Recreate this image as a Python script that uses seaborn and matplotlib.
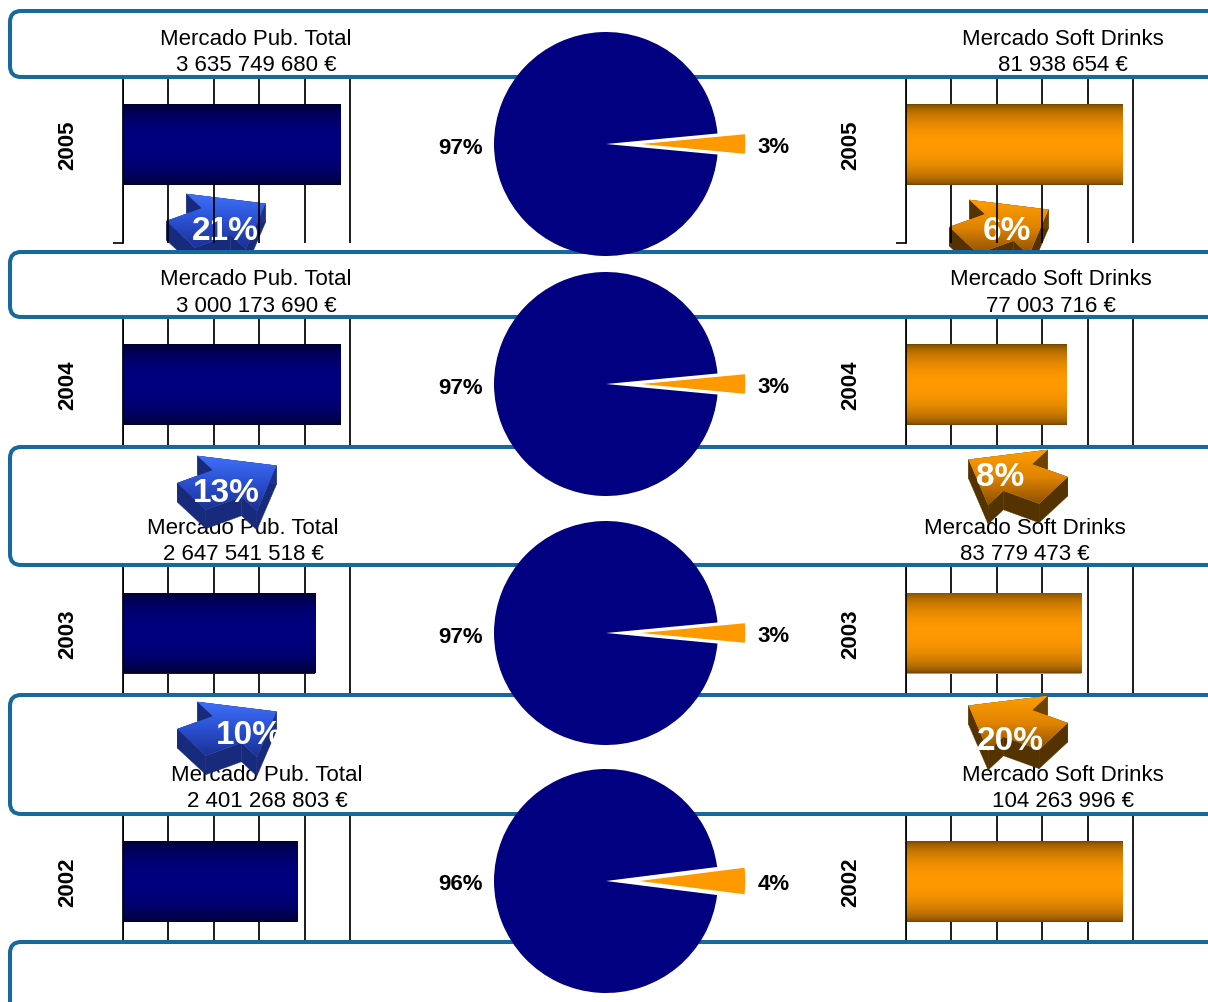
import numpy as np
import pandas as pd
import matplotlib
matplotlib.use("Agg")
import matplotlib.pyplot as plt
from matplotlib.patches import FancyBboxPatch, Polygon
from matplotlib.colors import LinearSegmentedColormap, to_rgb
import seaborn as sns

# ---------------------------------------------------------------- data
years = ["2005", "2004", "2003", "2002"]
pub_total = [3635749680, 3000173690, 2647541518, 2401268803]
soft_total = [81938654, 77003716, 83779473, 104263996]
soft_share_pct = [3, 3, 3, 4]
pub_growth_pct = [21, 13, 10]        # year over previous year
soft_growth_pct = [6, -8, -20]
pub_title = "Mercado Pub. Total"
soft_title = "Mercado Soft Drinks"

# ---------------------------------------------------------------- layout
W, H = 1208, 1003
row_centers = [145.5, 385.5, 634, 882]
pie_cy = [145, 385, 634, 882]
pub_fill = [0.956, 0.956, 0.846, 0.767]    # bar length / axis length
soft_fill = [0.952, 0.709, 0.771, 0.952]
box_spans = [(12, 78), (253, 318), (448, 566), (696, 815), (943, 1070)]
pub_text_x = [256, 256, 243, 267]
soft_text_x = [1063, 1051, 1025, 1063]
text_y = [(39, 65), (279, 306), (528, 554), (776, 802)]
pub_arrow_xy = [(223, 220), (234, 482), (234, 728)]
pub_arrow_txt = [(225, 231), (226, 494), (249, 735)]
soft_arrow_xy = [(1006, 226), (1011, 476), (1011, 722)]
soft_arrow_txt = [(1007, 231), (1000, 478), (1010, 742)]
PANEL_W = 227          # pixel span of the five grid intervals
PANEL_PAD = 3          # room so the last grid line is not clipped
PIE_R = 112            # pie radius in pixels

NAVY = "#000080"
ORANGE = "#FF9900"
BOX_EDGE = "#15699B"

sns.set_style("white")
plt.rcParams["font.family"] = ["Liberation Sans", "DejaVu Sans"]
plt.rcParams["text.color"] = "black"

fig = plt.figure(figsize=(W / 100, H / 100), dpi=100)


def px_axes(x0, y0, w, h, z):
    ax = fig.add_axes([x0 / W, 1 - (y0 + h) / H, w / W, h / H])
    ax.set_zorder(z)
    ax.patch.set_visible(False)
    return ax


def overlay(z):
    ax = px_axes(0, 0, W, H, z)
    ax.set_xlim(0, W)
    ax.set_ylim(H, 0)
    ax.axis("off")
    return ax


ax_under = overlay(0)
ax_box = overlay(2)
ax_top = overlay(4)


def band_cmap(name, edge, mid):
    # dark at both edges, full colour through the middle of the bar
    t = np.linspace(0, 1, 64)
    k = np.sin(np.pi * t) ** 0.55
    e, m = np.array(to_rgb(edge)), np.array(to_rgb(mid))
    cols = [tuple(e + (m - e) * kk) for kk in k]
    return LinearSegmentedColormap.from_list(name, cols)


navy_cmap = band_cmap("navy", "#00002A", NAVY)
orange_cmap = band_cmap("orng", "#704200", ORANGE)


def thousands(v):
    return f"{v:,}".replace(",", " ") + " \u20ac"


def bar_panel(x0, yc, value, year, fill, color, cmap):
    ax = px_axes(x0, yc - 98.5, PANEL_W + PANEL_PAD, 197, 1)
    df = pd.DataFrame({"year": [year], "value": [value]})
    sns.barplot(data=df, x="value", y="year", orient="h", color=color,
                width=0.8, linewidth=0, ax=ax)
    span = 0.8 * 197 / 81 / 2
    xmax = value / fill
    for p in ax.patches:
        bb = p.get_bbox()
        grad = np.linspace(0, 1, 256).reshape(-1, 1)
        im = ax.imshow(grad, extent=(bb.x0, bb.x1, bb.y1, bb.y0), aspect="auto",
                       cmap=cmap, zorder=p.get_zorder() + 0.1, origin="upper")
        im.set_clip_path(p)
    ax.set_xlim(0, xmax * (PANEL_W + PANEL_PAD) / PANEL_W)
    ax.set_ylim(span, -span)
    ax.set_xticks(np.linspace(0, xmax, 6))
    ax.set_xticklabels([])
    ax.set_yticks([span * 0.999])
    ax.set_yticklabels([])
    ax.tick_params(axis="x", length=0)
    ax.tick_params(axis="y", length=7.5, width=1.2, direction="out", color="black", left=True)
    ax.grid(axis="x", color="black", lw=1.25)
    ax.grid(axis="y", visible=False)
    ax.set_axisbelow(True)
    for s in ("top", "right", "bottom"):
        ax.spines[s].set_visible(False)
    ax.spines["left"].set_color("black")
    ax.spines["left"].set_linewidth(1.25)
    ax.set_xlabel("")
    ax.set_ylabel("")
    ax.text(-55.5 / (PANEL_W + PANEL_PAD), 0.5, year, transform=ax.transAxes, rotation=90,
            ha="center", va="center", fontsize=16, fontweight="bold", color="black")
    return ax


def pie_panel(cy, share):
    S = 380
    L = S / 2 / PIE_R
    ax = px_axes(606 - S / 2, cy - S / 2, S, S, 3)
    vals = [100 - share, share]
    wedges, texts = ax.pie(
        vals, colors=[NAVY, ORANGE], explode=[0, 0.25],
        startangle=0.0 + 180 * share / 100,
        labels=[f"{v}%" for v in vals], labeldistance=1.1,
        textprops=dict(fontsize=16, fontweight="bold", color="black"),
        wedgeprops=dict(linewidth=0))
    wedges[1].set_edgecolor("white")
    wedges[1].set_linewidth(1.0)
    # centre the figures optically on the slice axis
    for t in texts:
        x, y = t.get_position()
        t.set_position((x, y - 3 / PIE_R))
    ax.set_xlim(-L, L)
    ax.set_ylim(-L, L)
    ax.set_aspect("equal")


def block_arrow(ax, cx, cy, heading, top_colors, side_color, front_color):
    length, squash, depth = 100, 0.58, 19
    Ls, w, h = 0.42, 0.27, 0.56
    pts = np.array([(-0.5, -w), (Ls - 0.5, -w), (Ls - 0.5, -h), (0.5, 0),
                    (Ls - 0.5, h), (Ls - 0.5, w), (-0.5, w)]) * length
    a = np.deg2rad(heading)
    rot = np.array([[np.cos(a), -np.sin(a)], [np.sin(a), np.cos(a)]])
    p = pts @ rot.T
    p[:, 1] *= squash
    top = np.column_stack([cx + p[:, 0], cy - p[:, 1]])
    n = len(top)
    for i in range(n):
        a0, a1 = top[i], top[(i + 1) % n]
        quad = np.array([a0, a1, a1 + [0, depth], a0 + [0, depth]])
        col = front_color if (a1[0] - a0[0]) < 0 else side_color
        ax.add_patch(Polygon(quad, closed=True, fc=col, ec=col, lw=0.3, zorder=1))
    face = Polygon(top, closed=True, fc=top_colors[1], ec="none", zorder=2)
    ax.add_patch(face)
    x0, x1 = top[:, 0].min(), top[:, 0].max()
    y0, y1 = top[:, 1].min(), top[:, 1].max()
    cmap = LinearSegmentedColormap.from_list("g", top_colors)
    grad = np.linspace(0, 1, 128).reshape(-1, 1)
    im = ax.imshow(grad, extent=(x0, x1, y1, y0), origin="upper", aspect="auto",
                   cmap=cmap, zorder=2.1)
    im.set_clip_path(face)


BLUE_TOP = ["#3F71FA", "#2A4FD0", "#1B3190"]
BLUE_SIDE, BLUE_FRONT = "#182A7C", "#1D3186"
ORNG_TOP = ["#FF9E00", "#E08400", "#8A5000"]
ORNG_SIDE, ORNG_FRONT = "#553300", "#6E4200"

# bars
for i in range(4):
    bar_panel(123, row_centers[i], pub_total[i], years[i], pub_fill[i], NAVY, navy_cmap)
    bar_panel(906, row_centers[i], soft_total[i], years[i], soft_fill[i], ORANGE, orange_cmap)

# pies
for i in range(4):
    pie_panel(pie_cy[i], soft_share_pct[i])

# frames and totals
for (y0, y1) in box_spans:
    ax_box.add_patch(FancyBboxPatch((10, y0), 1400, y1 - y0,
                                    boxstyle="round,pad=0,rounding_size=11",
                                    fc="white", ec=BOX_EDGE, lw=2.9, zorder=1))
for i in range(4):
    ty, vy = text_y[i]
    ax_box.text(pub_text_x[i], ty, pub_title, ha="center", va="center", fontsize=16, zorder=3)
    ax_box.text(pub_text_x[i], vy, thousands(pub_total[i]), ha="center", va="center",
                fontsize=16, zorder=3)
    ax_box.text(soft_text_x[i], ty, soft_title, ha="center", va="center", fontsize=16, zorder=3)
    ax_box.text(soft_text_x[i], vy, thousands(soft_total[i]), ha="center", va="center",
                fontsize=16, zorder=3)

# growth arrows
for i in range(3):
    target = ax_under if i == 0 else ax_top
    g = pub_growth_pct[i]
    block_arrow(target, *pub_arrow_xy[i], 32 if g >= 0 else 148, BLUE_TOP, BLUE_SIDE, BLUE_FRONT)
    target.text(*pub_arrow_txt[i], f"{abs(g)}%", ha="center", va="center", color="white",
                fontsize=24, fontweight="bold", zorder=5)
    g = soft_growth_pct[i]
    block_arrow(target, *soft_arrow_xy[i], 32 if g >= 0 else 148, ORNG_TOP, ORNG_SIDE, ORNG_FRONT)
    target.text(*soft_arrow_txt[i], f"{abs(g)}%", ha="center", va="center", color="white",
                fontsize=24, fontweight="bold", zorder=5)

for ax in (ax_under, ax_box, ax_top):
    ax.set_xlim(0, W)
    ax.set_ylim(H, 0)

fig.savefig("out.png", dpi=100)
